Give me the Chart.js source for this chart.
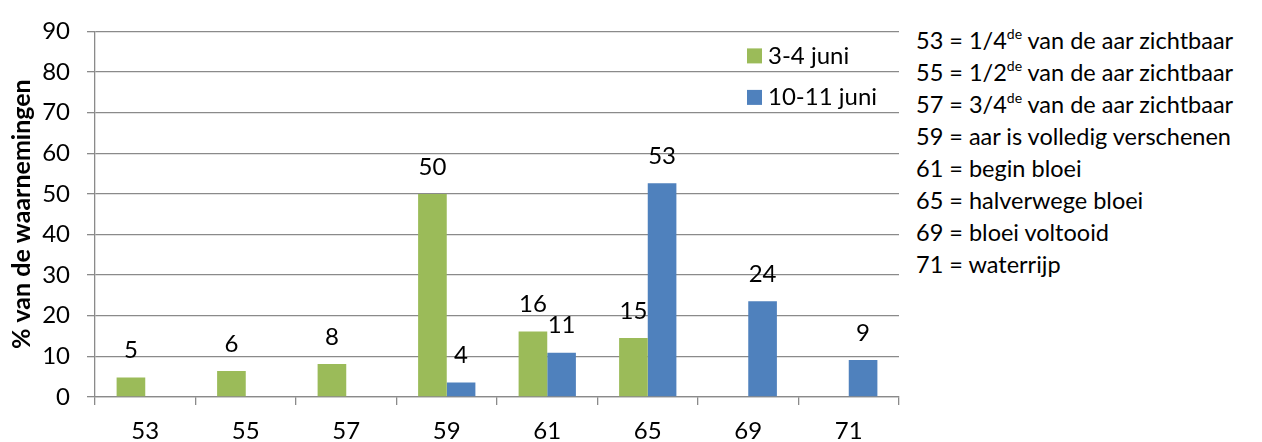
<!DOCTYPE html>
<html>
<head>
<meta charset="utf-8">
<script src="https://cdn.jsdelivr.net/npm/chart.js@4.4.0/dist/chart.umd.min.js"></script>
<style>
html,body{margin:0;padding:0;background:#fff;}
#wrap{position:relative;width:1262px;height:442px;overflow:hidden;}
#c{position:absolute;left:0;top:0;}
#notes{position:absolute;left:916px;top:24px;font-family:Lato,sans-serif;font-size:23.5px;line-height:32px;color:#000;white-space:nowrap;}
#notes div{height:32px;}
#notes sup{font-size:14px;line-height:0;vertical-align:baseline;position:relative;top:-10px;}
</style>
</head>
<body>
<div id="wrap">
<canvas id="c" width="905" height="442"></canvas>
<div id="notes">
<div>53 = 1/4<sup>de</sup> van de aar zichtbaar</div>
<div>55 = 1/2<sup>de</sup> van de aar zichtbaar</div>
<div>57 = 3/4<sup>de</sup> van de aar zichtbaar</div>
<div>59 = aar is volledig verschenen</div>
<div>61 = begin bloei</div>
<div>65 = halverwege bloei</div>
<div>69 = bloei voltooid</div>
<div>71 = waterrijp</div>
</div>
</div>
<script>
const categories = ['53', '55', '57', '59', '61', '65', '69', '71'];
const series1Label = '3-4 juni';
const series2Label = '10-11 juni';
const series1 = [4.8, 6.4, 8.1, 50.0, 16.1, 14.5, null, null];
const series2 = [null, null, null, 3.6, 10.9, 52.6, 23.6, 9.1];
const yTicks = { min: 0, max: 90, step: 10 };

const GREEN = '#9BBB59';
const BLUE = '#4F81BD';
const GRID = '#8a8a8a';
const FONT = 'Lato';
const FS = 24;

const dataLabels = {
  id: 'dataLabels',
  afterDatasetsDraw(chart) {
    const ctx = chart.ctx;
    ctx.save();
    ctx.font = FS + 'px ' + FONT;
    ctx.fillStyle = '#000';
    ctx.textAlign = 'center';
    ctx.textBaseline = 'middle';
    chart.data.datasets.forEach((ds, i) => {
      const meta = chart.getDatasetMeta(i);
      meta.data.forEach((el, j) => {
        const v = ds.data[j];
        if (v === null || v === undefined) return;
        ctx.fillText(String(Math.round(v)), el.x, el.y - 27);
      });
    });
    ctx.restore();
  }
};

const innerLegend = {
  id: 'innerLegend',
  afterDraw(chart) {
    const ctx = chart.ctx;
    const a = chart.chartArea;
    ctx.save();
    ctx.font = FS + 'px ' + FONT;
    ctx.textAlign = 'left';
    ctx.textBaseline = 'middle';
    const x0 = a.right - 152;
    chart.data.datasets.forEach((ds, i) => {
      const cy = a.top + 24.5 + i * 41.5;
      ctx.fillStyle = ds.backgroundColor;
      ctx.fillRect(x0, cy - 7.5, 15, 15);
      ctx.fillStyle = '#000';
      ctx.fillText(ds.label, x0 + 21, cy);
    });
    ctx.restore();
  }
};

new Chart(document.getElementById('c'), {
  type: 'bar',
  data: {
    labels: categories,
    datasets: [
      { label: series1Label, data: series1, backgroundColor: GREEN },
      { label: series2Label, data: series2, backgroundColor: BLUE }
    ]
  },
  options: {
    responsive: false,
    animation: false,
    devicePixelRatio: 1,
    layout: { padding: { top: 20, right: 6, left: 0, bottom: 0 } },
    datasets: { bar: { barPercentage: 1.0, categoryPercentage: 0.57 } },
    plugins: { legend: { display: false }, tooltip: { enabled: false } },
    scales: {
      x: {
        grid: { drawOnChartArea: false, drawTicks: true, tickLength: 8, color: GRID, lineWidth: 1.3, offset: true },
        border: { color: GRID, width: 1.3 },
        ticks: { font: { family: FONT, size: FS }, color: '#000', padding: 12 },
        afterFit(s) { s.height = 45; }
      },
      y: {
        min: yTicks.min, max: yTicks.max,
        grid: { color: GRID, lineWidth: 1.3, tickLength: 8 },
        border: { color: GRID, width: 1.3 },
        ticks: { stepSize: yTicks.step, font: { family: FONT, size: FS }, color: '#000', padding: 17 },
        title: { display: true, text: '% van de waarnemingen', font: { family: FONT, size: 25, weight: 'bold' }, color: '#000', padding: { top: 7, bottom: 0 } },
        afterFit(s) { s.width = 95; }
      }
    }
  },
  plugins: [dataLabels, innerLegend]
});
</script>
</body>
</html>
